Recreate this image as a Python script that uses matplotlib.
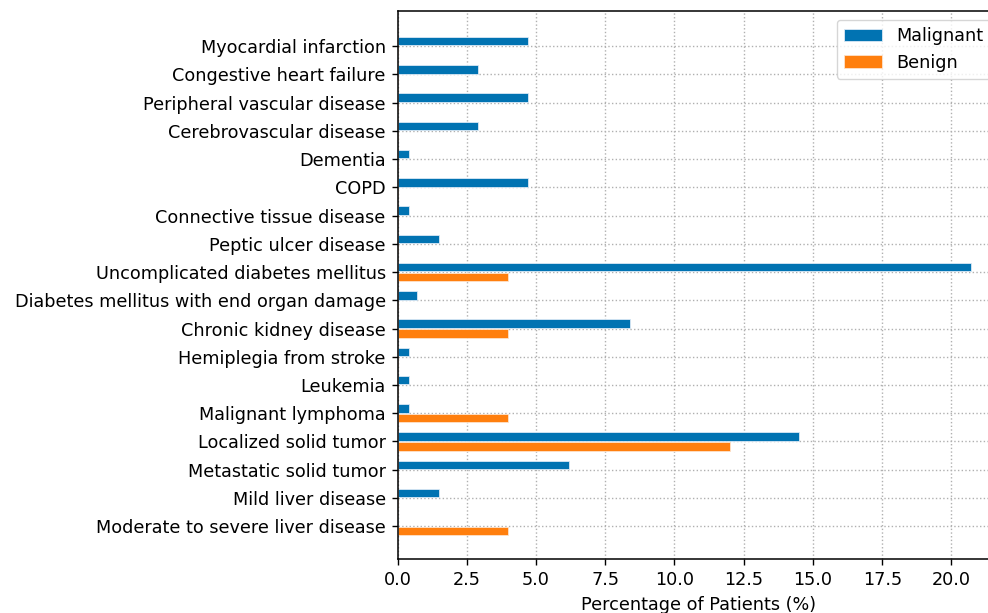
import numpy as np
import matplotlib
matplotlib.use("Agg")
import matplotlib.pyplot as plt

categories = [
    "Myocardial infarction",
    "Congestive heart failure",
    "Peripheral vascular disease",
    "Cerebrovascular disease",
    "Dementia",
    "COPD",
    "Connective tissue disease",
    "Peptic ulcer disease",
    "Uncomplicated diabetes mellitus",
    "Diabetes mellitus with end organ damage",
    "Chronic kidney disease",
    "Hemiplegia from stroke",
    "Leukemia",
    "Malignant lymphoma",
    "Localized solid tumor",
    "Metastatic solid tumor",
    "Mild liver disease",
    "Moderate to severe liver disease",
]
malignant = [4.7, 2.9, 4.7, 2.9, 0.4, 4.7, 0.4, 1.5, 20.7, 0.7,
             8.4, 0.4, 0.4, 0.4, 14.5, 6.2, 1.5, 0.0]
benign = [0, 0, 0, 0, 0, 0, 0, 0, 4.0, 0,
          4.0, 0, 0, 4.0, 12.0, 0, 0, 4.0]

plt.rcParams["font.family"] = "DejaVu Sans"
fs = 12.7

fig = plt.figure(figsize=(9.88, 6.13), dpi=100)
ax = fig.add_axes([397.5 / 988, 1 - 559 / 613, (999.5 - 397.5) / 988, (559 - 11) / 613])

y = np.arange(len(categories))
h = 0.3
off = 0.17
ax.barh(y - off, malignant, height=h, color="#0173b2", edgecolor="#dbe9f5",
        linewidth=0.6, label="Malignant", zorder=2)
ax.barh(y + off, benign, height=h, color="#ff7f0e", edgecolor="#fde3cc",
        linewidth=0.6, label="Benign", zorder=2)

ax.set_yticks(y)
ax.set_yticklabels(categories)
ax.set_ylim(len(categories) - 1 + 1.16, -1.24)
ax.set_xlim(0, 21.735)
ax.set_xticks(np.arange(0, 21, 2.5))
ax.tick_params(labelsize=fs, length=4.3, pad=4.2, width=1.0)
ax.set_xlabel("Percentage of Patients (%)", fontsize=fs, labelpad=5)
ax.grid(True, linestyle=":", color="#b0b0b0", linewidth=1.0, zorder=0)
ax.set_axisbelow(True)
for s in ax.spines.values():
    s.set_linewidth(1.1)
ax.legend(loc="upper right", fontsize=fs, handlelength=2.2)

fig.savefig("out.png", dpi=100)
